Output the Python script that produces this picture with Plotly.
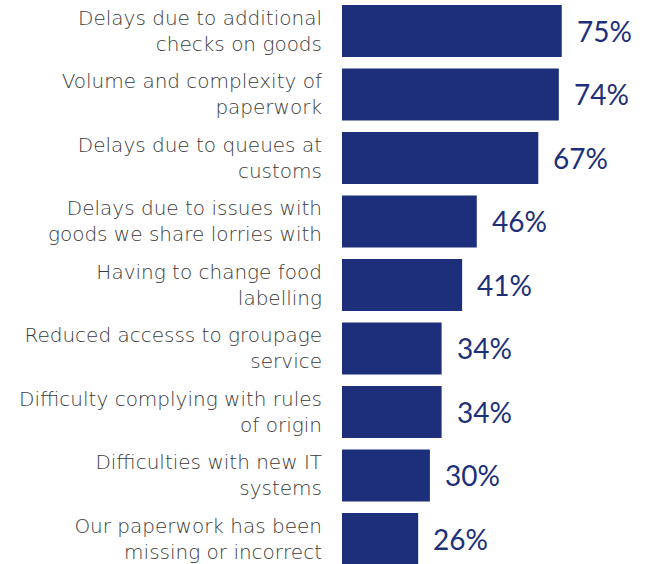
import plotly.graph_objects as go

categories = [
    "Delays due to additional<br>checks on goods",
    "Volume and complexity of<br>paperwork",
    "Delays due to queues at<br>customs",
    "Delays due to issues with<br>goods we share lorries with",
    "Having to change food<br>labelling",
    "Reduced accesss to groupage<br>service",
    "Difficulty complying with rules<br>of origin",
    "Difficulties with new IT<br>systems",
    "Our paperwork has been<br>missing or incorrect",
]
values = [75, 74, 67, 46, 41, 34, 34, 30, 26]
labels = [f"{v}%" for v in values]

NAVY = "#1d2f7a"

fig = go.Figure(
    go.Bar(
        x=values,
        y=categories,
        orientation="h",
        marker=dict(color=NAVY, line=dict(width=0)),
        width=0.82,
    )
)

for c, v, t in zip(categories, values, labels):
    fig.add_annotation(
        x=v, y=c, text=t, showarrow=False, xanchor="left", xshift=13,
        font=dict(family="Lato", size=28, color=NAVY),
    )

fig.update_layout(
    width=646, height=564,
    margin=dict(l=342, r=11, t=0, b=0),
    paper_bgcolor="white", plot_bgcolor="white",
    showlegend=False,
    font=dict(family="DejaVu Sans", size=20, color="#3a3a3a"),
)
fig.update_xaxes(range=[0, 100], visible=False, showgrid=False, zeroline=False)
fig.update_yaxes(
    range=[8.394, -0.488], showgrid=False, zeroline=False, showline=False,
    ticks="", ticklabelstandoff=19, automargin=False,
    tickfont=dict(family="DejaVu Sans", size=20, color="#3a3a3a", weight=200),
)

fig.write_html("out.html")
